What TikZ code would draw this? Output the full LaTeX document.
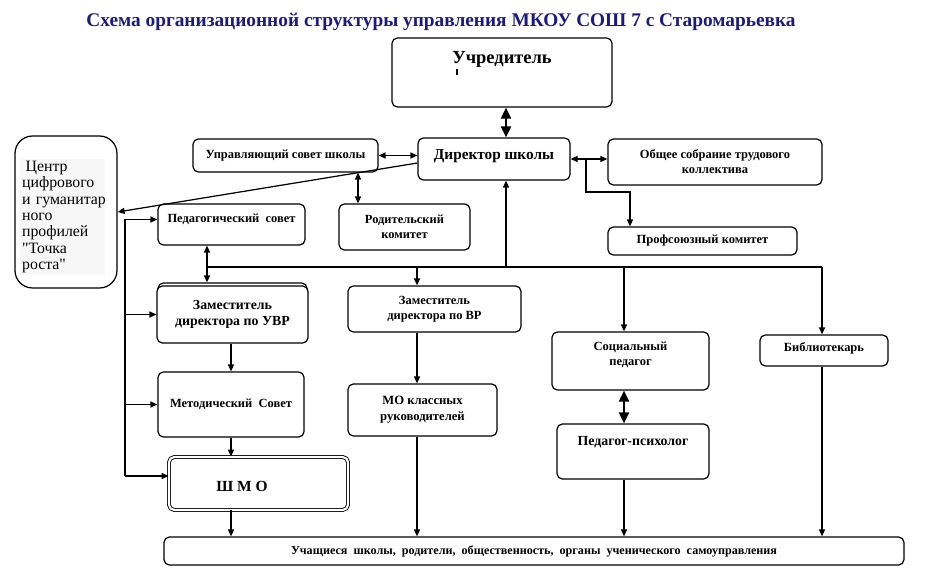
\documentclass[tikz,border=0pt]{standalone}
\usepackage{fontspec}
\setmainfont{Liberation Serif}
\usepackage{xcolor}
\usepackage{tikz}
\usetikzlibrary{arrows.meta,positioning,calc}
\definecolor{titleblue}{RGB}{28,26,128}
\begin{document}
\begin{tikzpicture}[x=0.02cm,y=-0.02cm,
  every node/.style={font=\fontsize{7.1}{8.5}\selectfont\bfseries},
  box/.style={draw,line width=0.7pt,rounded corners=3pt,fill=white,align=center,inner sep=1pt},
  pushup/.style={text depth=#1},
  arr/.style={-{Triangle[length=1.4mm,width=1.2mm]},line width=0.7pt},
  dbl/.style={{Triangle[length=1.4mm,width=1.2mm]}-{Triangle[length=1.4mm,width=1.2mm]},line width=0.7pt},
  bigarr/.style={{Triangle[length=2.2mm,width=2mm]}-{Triangle[length=2.2mm,width=2mm]},line width=1.1pt}]
 \useasboundingbox (0,0) rectangle (933,587);
 \node[font=\fontsize{11}{13}\selectfont\bfseries,text=titleblue] (title) at (441,22)
   {Схема организационной структуры управления МКОУ СОШ 7 с Старомарьевка};
 % top level
 \node[box,font=\fontsize{10.5}{12}\selectfont\bfseries,minimum width=4.4cm,minimum height=1.38cm,pushup=0.62cm] (uchr) at (502,72.5) {Учредитель};
 \draw[line width=1.1pt] (457,69) -- (457,75);
 \node[box,font=\fontsize{8.7}{10}\selectfont\bfseries,minimum width=3.04cm,minimum height=0.84cm,pushup=0.2cm] (dir) at (494,159) {Директор школы};
 \node[box,minimum width=3.7cm,minimum height=0.66cm] (usov) at (285.5,155.5) {Управляющий совет школы};
 \node[box,minimum width=4.28cm,minimum height=0.92cm] (obsh) at (715,162) {Общее собрание трудового\\ коллектива};
 \node[box,minimum width=3.78cm,minimum height=0.56cm] (prof) at (702.5,241) {Профсоюзный комитет};
 % centre
 \node[draw,line width=0.7pt,rounded corners=0.35cm,minimum width=2.04cm,minimum height=3.04cm] (centr) at (66,212) {};
 \node[font=\fontsize{9}{9.3}\selectfont,fill=gray!6,align=left,inner sep=1pt,text width=1.62cm,anchor=west] (centrt) at (20,217)
   {\hspace*{2pt}Центр\\ цифрового\\ и~гуманитар\\ ного\\ профилей\\ \textquotedbl Точка\\ роста\textquotedbl};
 % second level
 \node[box,minimum width=2.94cm,minimum height=0.82cm,pushup=0.24cm] (ped) at (231.5,224.5) {Педагогический\ \ совет};
 \node[box,minimum width=2.62cm,minimum height=0.92cm] (rod) at (404.5,227) {Родительский\\ комитет};
 \node[box,minimum width=2.98cm,minimum height=1.14cm] (zuvrb) at (232.5,311.5) {};
 \node[box,font=\fontsize{7.9}{9.5}\selectfont\bfseries,minimum width=3.02cm,minimum height=1.14cm] (zuvr) at (232.5,314.5) {Заместитель\\ директора по УВР};
 \node[box,minimum width=3.46cm,minimum height=0.92cm] (zvr) at (434.5,309) {Заместитель\\ директора по ВР};
 \node[box,minimum width=3.14cm,minimum height=1.16cm,pushup=0.3cm] (soc) at (630.5,361) {Социальный\\ педагог};
 \node[box,minimum width=2.56cm,minimum height=0.62cm,pushup=0.12cm] (bib) at (824,350.5) {Библиотекарь};
 \node[box,minimum width=2.92cm,minimum height=1.3cm] (met) at (231,404.5) {Методический\ \ Совет};
 \node[box,font=\fontsize{7.2}{9}\selectfont\bfseries,minimum width=2.98cm,minimum height=1.04cm] (mo) at (422.5,410) {МО классных\\ руководителей};
 \node[box,font=\fontsize{7.9}{9}\selectfont\bfseries,minimum width=3.04cm,minimum height=1.1cm,pushup=0.44cm] (psy) at (633,451.5) {Педагог-психолог};
 \node[box,double=white,double distance=1.2pt,line width=0.5pt,minimum width=3.58cm,minimum height=1.06cm] (shmo) at (258.5,483.5) {};
 \node[font=\fontsize{8.8}{10}\selectfont\bfseries] (shmot) at (242,486) {Ш М О};
 \node[box,font=\fontsize{6.9}{8}\selectfont\bfseries,minimum width=14.8cm,minimum height=0.56cm] (all) at (534,551)
   {Учащиеся\ \ школы,\ \ родители,\ \ общественность,\ \ органы\ \ ученического\ \ самоуправления};
 % helper points
 \coordinate (busl) at (207,267);
 \coordinate (busr) at (822,267);
 \coordinate (busup) at (506,267);
 \coordinate (bvr) at (417,267);
 \coordinate (bsoc) at (624,267);
 \coordinate (ur) at (358,188);
 \coordinate (pk) at (586,192);
 \coordinate (pk2) at (630,192);
 \coordinate (lb) at (125,300);
 % connectors
 \draw[bigarr] (uchr.south -| busup) -- (dir.north -| busup);
 \draw[dbl] (usov.east) -- (usov.east -| dir.west);
 \draw[arr] ([yshift=-0.08cm]dir.west) -- (centr.east);
 \draw[dbl] (ur |- usov.south) -- (ur |- rod.north);
 \draw[dbl] (dir.east) -- (dir.east -| obsh.west);
 \draw[arr] (dir.east -| pk) -- (pk) -- (pk2) -- (pk2 |- prof.north);
 \draw[line width=0.7pt] (busl) -- (busr);
 \draw[arr] (busup) -- (busup |- dir.south);
 \draw[dbl] (busl |- ped.south) -- (busl |- zuvrb.north);
 \draw[arr] (bvr) -- (bvr |- zvr.north);
 \draw[arr] (bsoc) -- (bsoc |- soc.north);
 \draw[arr] (busr) -- (busr |- bib.north);
 \draw[arr] (met.north |- zuvr.south) -- (met.north);
 \draw[arr] (met.south) -- (met.south |- shmo.north);
 \draw[arr] (met.south |- shmo.south) -- (met.south |- all.north);
 \draw[arr] (bvr |- zvr.south) -- (bvr |- mo.north);
 \draw[arr] (bvr |- mo.south) -- (bvr |- all.north);
 \draw[bigarr] (bsoc |- soc.south) -- (bsoc |- psy.north);
 \draw[arr] (bsoc |- psy.south) -- (bsoc |- all.north);
 \draw[arr] (busr |- bib.south) -- (busr |- all.north);
 % left bracket
 \draw[line width=0.7pt] ([yshift=1mm]ped.west -| lb) -- ([yshift=1.5mm]shmo.west -| lb);
 \draw[arr] ([yshift=1mm]ped.west -| lb) -- ([yshift=1mm]ped.west);
 \draw[arr] (zuvr.west -| lb) -- (zuvr.west);
 \draw[arr] (met.west -| lb) -- (met.west);
 \draw[arr] ([yshift=1.5mm]shmo.west -| lb) -- ([yshift=1.5mm]shmo.west);
\end{tikzpicture}
\end{document}
